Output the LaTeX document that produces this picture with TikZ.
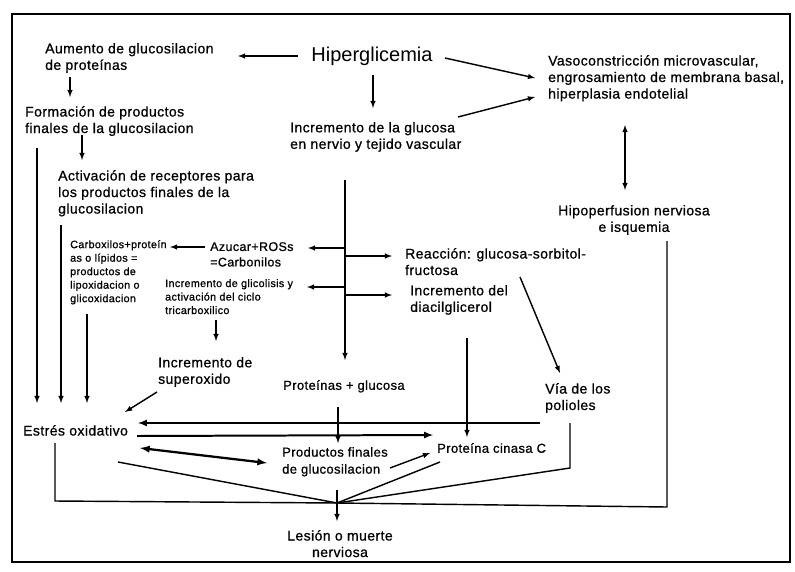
\documentclass[tikz,border=0pt]{standalone}
\usepackage{fontspec}
\setmainfont[LetterSpace=3, FakeBold=0.8]{Liberation Sans}
\newfontfamily\hipfont{Liberation Sans}
\usetikzlibrary{calc,arrows}

\tikzset{
  txt/.style={inner sep=0pt, anchor=north west, align=left, font=\fontsize{14}{16.5}\selectfont},
  ctxt/.style={txt, anchor=north, align=center},
  mtxt/.style={txt, font=\fontsize{13}{17}\selectfont},
  stxt/.style={txt, font=\fontsize{10.8}{13.5}\selectfont},
  ln/.style={line width=0.5mm},
  arr/.style={line width=0.5mm, -latex},
}

\begin{document}
\begin{tikzpicture}[x=1pt, y=-1pt]
\useasboundingbox (0,0) rectangle (795,571);
\draw[line width=0.7mm] (12,14) rectangle (790,562);

% text blocks
\node[ctxt, font=\hipfont\fontsize{20}{24}\selectfont] (hip) at (372,47) {Hiperglicemia};
\node[txt] (aum) at (45,43) {Aumento de glucosilacion\\de proteínas};
\node[txt] (vaso) at (548,55) {Vasoconstricción microvascular,\\engrosamiento de membrana basal,\\hiperplasia endotelial};
\node[txt] (incg) at (290,122) {Incremento de la glucosa\\en nervio y tejido vascular};
\node[txt] (form) at (25,106) {Formación de productos\\finales de la glucosilacion};
\node[txt] (activ) at (58,170) {Activación de receptores para\\los productos finales de la\\glucosilacion};
\node[ctxt] (hipo) at (634,205) {Hipoperfusion nerviosa\\e isquemia};
\node[stxt] (carb) at (70,240) {Carboxilos+proteín\\as o lípidos =\\productos de\\lipoxidacion o\\glicoxidacion};
\node[txt, font=\fontsize{12.5}{15.5}\selectfont] (azu) at (210,242) {Azucar+ROSs\\=Carbonilos};
\node[stxt] (incgl) at (165,279) {Incremento de glicolisis y\\activación del ciclo\\tricarboxilico};
\node[txt] (sup) at (158,357) {Incremento de\\superoxido};
\node[txt] (reac) at (405,248) {Reacción: glucosa-sorbitol-\\fructosa};
\node[txt] (diac) at (410,285) {Incremento del\\diacilglicerol};
\node[txt] (via) at (545,383) {Vía de los\\polioles};
\node[mtxt] (prog) at (283,380) {Proteínas + glucosa};
\node[txt] (estres) at (23,425) {Estrés oxidativo};
\node[mtxt] (prod) at (282,447) {Productos finales\\de glucosilacion};
\node[mtxt] (pkc) at (437,443) {Proteína cinasa C};
\node[ctxt] (les) at (340,530) {Lesión o muerte\\nerviosa};

% junction points
\coordinate (trunk) at ($(incg.north west)+(55,58)$);
\coordinate (azuin) at ($(azu.north west)+(98,6)$);
\coordinate (reacin) at ($(reac.north west)+(-13,8)$);
\coordinate (incglin) at ($(incgl.north west)+(142,8)$);
\coordinate (diacin) at ($(diac.north west)+(-18,10)$);
\coordinate (conv) at ($(les.north)+(-3,-27)$);

% top part
\draw[arr] ($(hip.north)+(-74,9)$) -- ($(aum.north west)+(193,13)$);
\draw[arr] ($(hip.north)+(73,11)$) -- ($(vaso.north west)+(-13,23)$);
\draw[arr] ($(incg.north west)+(168,-5)$) -- ($(vaso.north west)+(-13,42)$);
\draw[arr] ($(hip.north)+(1,28)$) -- ($(incg.north west)+(83,-14)$);
\draw[arr] ($(aum.north west)+(25,34)$) -- ($(form.north west)+(45,-9)$);
\draw[arr] ($(form.north west)+(57,29)$) -- ($(activ.north west)+(24,-10)$);
\draw[ln, latex-latex] ($(vaso.north west)+(77,70)$) -- ($(hipo.north)+(-9,-15)$);

% left column into Estres oxidativo
\draw[arr] ($(form.north west)+(12,42)$) -- ($(estres.north west)+(14,-22)$);
\draw[arr] ($(activ.north west)+(3,55)$) -- ($(estres.north west)+(38,-22)$);
\draw[arr] ($(carb.north west)+(17,74)$) -- ($(estres.north west)+(64,-22)$);
\draw[arr] ($(azu.north west)+(-5,5)$) -- ($(carb.north west)+(100,7)$);
\draw[arr] ($(incgl.north west)+(51,41)$) -- ($(sup.north west)+(58,-16)$);
\draw[arr] ($(sup.north west)+(-1,35)$) -- ($(estres.north west)+(102,-13)$);

% central trunk
\draw[arr] (trunk) -- ($(prog.north west)+(62,-20)$);
\foreach \p in {azuin,reacin,incglin,diacin}
  \draw[arr] (\p -| trunk) -- (\p);

% right part
\draw[arr] ($(reac.north west)+(115,29)$) -- ($(via.north west)+(15,-10)$);
\draw[arr] ($(diac.north west)+(57,53)$) -- ($(pkc.north west)+(30,-6)$);
\draw[arr] ($(prog.north west)+(55,27)$) -- ($(prod.north west)+(56,-4)$);

% bottom part
\draw[line width=0.7mm, -latex] ($(via.north west)+(-5,40)$) -- ($(estres.north west)+(115,-2)$);
\draw[line width=0.7mm, -latex] ($(estres.north west)+(114,11)$) -- ($(pkc.north west)+(-4,-8)$);
\draw[line width=0.8mm, latex-latex] ($(estres.north west)+(117,23)$) -- ($(prod.north west)+(-15,16)$);
\draw[arr] ($(prod.north west)+(108,21)$) -- ($(pkc.north west)+(-7,10)$);

% lines to the convergence point
\draw[ln] ($(estres.north west)+(95,37)$) -- (conv);
\draw[ln] ($(estres.north west)+(32,18)$) -- ($(estres.north west)+(32,76)$) -- (conv);
\draw[ln] ($(hipo.north)+(33,36)$) -- ($(hipo.north)+(33,302)$) -- (conv);
\draw[ln] ($(pkc.north west)+(3,19)$) -- (conv);
\draw[ln] ($(via.north west)+(25,40)$) -- ($(via.north west)+(25,85)$) -- (conv);
\draw[arr] ($(les.north)+(-3,-40)$) -- ($(les.north)+(-3,-9)$);
\end{tikzpicture}
\end{document}
